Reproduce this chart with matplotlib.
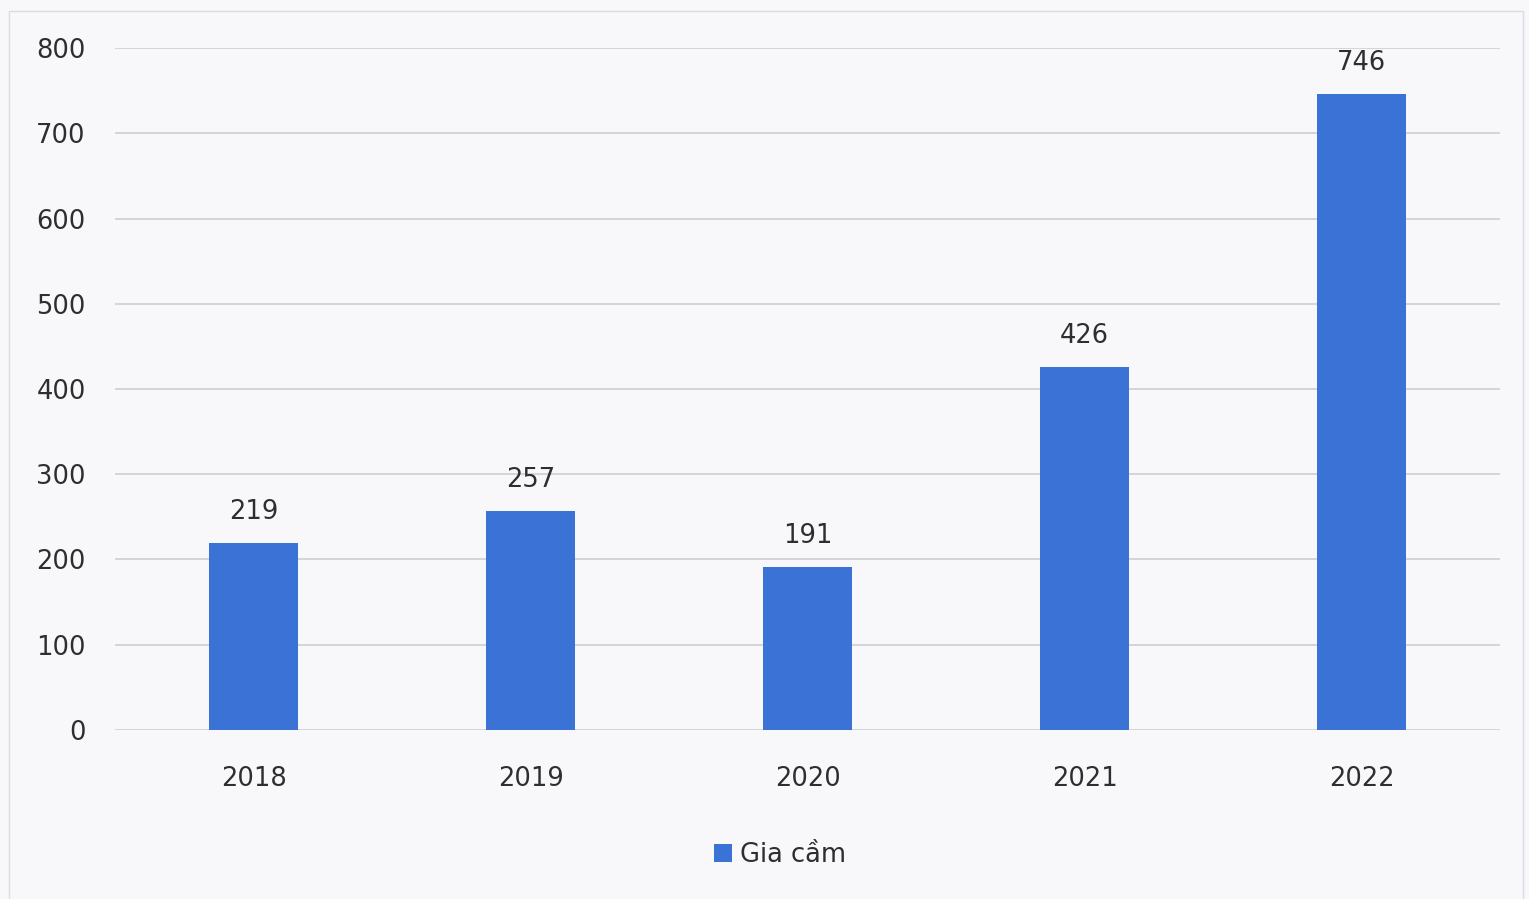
import matplotlib
matplotlib.use("Agg")
import matplotlib.pyplot as plt

years = ["2018", "2019", "2020", "2021", "2022"]
values = [219, 257, 191, 426, 746]
y_ticks = [0, 100, 200, 300, 400, 500, 600, 700, 800]
series_name = "Gia cầm"

bar_color = "#3a72d6"
text_color = "#2e2e2e"

plt.rcParams["font.family"] = ["DejaVu Sans"]

fig = plt.figure(figsize=(15.29, 8.99), dpi=100, facecolor="#f8f8fa")
ax = fig.add_axes([0.0752, 0.188, 0.906, 0.7586])
ax.set_facecolor("none")

x = list(range(len(years)))
bars = ax.bar(x, values, width=0.32, color=bar_color, zorder=3, label=series_name)

for xi, v in zip(x, values):
    ax.annotate(str(v), (xi, v), xytext=(0, 13), textcoords="offset points",
                ha="center", va="bottom", fontsize=18.5, color=text_color)

ax.set_xlim(-0.5, len(years) - 0.5)
ax.set_ylim(0, 800)
ax.set_yticks(y_ticks)
ax.set_yticklabels([str(t) for t in y_ticks], fontsize=18.5, color=text_color)
ax.set_xticks(x)
ax.set_xticklabels(years, fontsize=18.5, color=text_color)
ax.tick_params(axis="both", length=0)
ax.tick_params(axis="y", pad=21)
ax.tick_params(axis="x", pad=26)

ax.grid(axis="y", color="#cfcfd3", linewidth=1.2, zorder=0)
for s in ax.spines.values():
    s.set_visible(False)

leg = ax.legend(loc="upper center", bbox_to_anchor=(0.48, -0.13), frameon=False,
                fontsize=18.5, handlelength=0.7, handleheight=0.7, handletextpad=0.3)
for t in leg.get_texts():
    t.set_color(text_color)

# outer chart frame
fig.add_artist(plt.Rectangle((0.006, -0.02), 0.99, 1.008, transform=fig.transFigure,
                             fill=False, edgecolor="#dcdce0", linewidth=1.0))

fig.savefig("out.png", dpi=100, facecolor=fig.get_facecolor())
